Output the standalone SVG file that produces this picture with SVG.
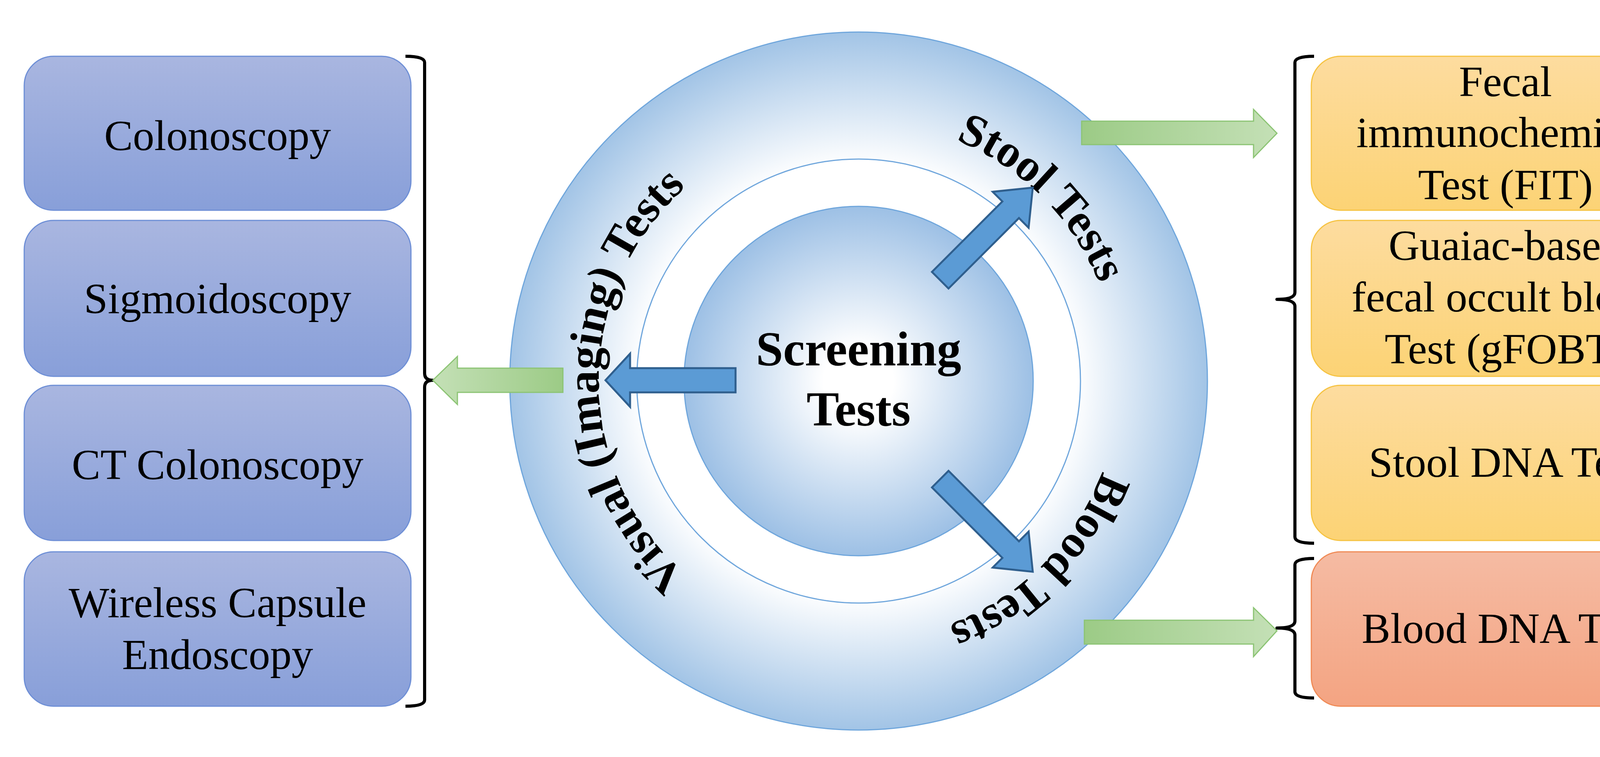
<svg xmlns="http://www.w3.org/2000/svg" width="4404" height="1937" viewBox="0 0 4404 1937">
<style>
.bx text,.t{font-family:"Liberation Serif","Times New Roman",serif;font-size:110px;fill:#000;text-anchor:middle}
.bl{font-family:"Liberation Serif","Times New Roman",serif;font-weight:bold;fill:#000}
.br{fill:none;stroke:#000;stroke-width:8;stroke-linejoin:round}
.blue{fill:#5B9BD5;stroke:#2F5F8E;stroke-width:5}
.green{fill:url(#gg);stroke:#8CC474;stroke-width:3}
</style>
<defs>
<linearGradient id="gp" x1="0" y1="0" x2="0" y2="1"><stop offset="0" stop-color="#A9B6E0"/><stop offset="1" stop-color="#889FD9"/></linearGradient>
<linearGradient id="gy" x1="0" y1="0" x2="0" y2="1"><stop offset="0" stop-color="#FDDC9F"/><stop offset="1" stop-color="#FCD375"/></linearGradient>
<linearGradient id="gr" x1="0" y1="0" x2="0" y2="1"><stop offset="0" stop-color="#F5BBA3"/><stop offset="1" stop-color="#F4A482"/></linearGradient>
<linearGradient id="gg" x1="0" y1="0" x2="1" y2="0"><stop offset="0" stop-color="#9CCB86"/><stop offset="1" stop-color="#C4E0B6"/></linearGradient>
<linearGradient id="ggl" x1="1" y1="0" x2="0" y2="0"><stop offset="0" stop-color="#9CCB86"/><stop offset="1" stop-color="#C4E0B6"/></linearGradient>
<radialGradient id="go" cx="2198" cy="975" r="893" gradientUnits="userSpaceOnUse"><stop offset="0.62" stop-color="#FFFFFF"/><stop offset="1" stop-color="#A2C4E6"/></radialGradient>
<radialGradient id="gi" cx="2198" cy="975" r="447" gradientUnits="userSpaceOnUse"><stop offset="0.2" stop-color="#FFFFFF"/><stop offset="1" stop-color="#9DC0E5"/></radialGradient>
<path id="pl" d="M2198,1640 A665,665 0 0 1 2198,310"/>
<path id="ps" d="M2198,310 A665,665 0 0 1 2863,975"/>
<path id="pb" d="M2863,975 A665,665 0 0 1 2198,1640"/>
</defs>
<rect width="4404" height="1937" fill="#fff"/>
<g id="circles">
<circle cx="2198" cy="975" r="893" fill="url(#go)" stroke="#6FA6DC" stroke-width="3"/>
<circle cx="2198" cy="975" r="568" fill="#fff" stroke="#6FA6DC" stroke-width="3"/>
<circle cx="2198" cy="975" r="447" fill="url(#gi)" stroke="#6FA6DC" stroke-width="3"/>
<text class="bl" font-size="125" text-anchor="middle" x="2198" y="935">Screening</text>
<text class="bl" font-size="125" text-anchor="middle" x="2198" y="1089">Tests</text>
<text class="bl" font-size="118"><textPath href="#pl" startOffset="50%" text-anchor="middle">Visual (Imaging) Tests</textPath></text>
<text class="bl" font-size="118"><textPath href="#ps" startOffset="50%" text-anchor="middle">Stool Tests</textPath></text>
<text class="bl" font-size="118"><textPath href="#pb" startOffset="50%" text-anchor="middle">Blood Tests</textPath></text>
</g>
<g id="left" class="bx">
<g id="n-colon"><rect x="62" y="144" width="990" height="394" rx="75" fill="url(#gp)" stroke="#6E8FD6" stroke-width="3"/><text x="557" y="384">Colonoscopy</text></g>
<g id="n-sigmo"><rect x="62" y="564" width="990" height="399" rx="75" fill="url(#gp)" stroke="#6E8FD6" stroke-width="3"/><text x="557" y="801">Sigmoidoscopy</text></g>
<g id="n-ct"><rect x="62" y="986" width="990" height="397" rx="75" fill="url(#gp)" stroke="#6E8FD6" stroke-width="3"/><text x="557" y="1226">CT Colonoscopy</text></g>
<g id="n-wce"><rect x="62" y="1412" width="990" height="395" rx="75" fill="url(#gp)" stroke="#6E8FD6" stroke-width="3"/><text x="557" y="1579">Wireless Capsule</text><text x="557" y="1712">Endoscopy</text></g>
</g>
<g id="right" class="bx">
<g id="n-fit"><rect x="3357" y="144" width="994" height="394" rx="75" fill="url(#gy)" stroke="#F6C342" stroke-width="3"/><text x="3854" y="246">Fecal</text><text x="3854" y="376">immunochemical</text><text x="3854" y="510">Test (FIT)</text></g>
<g id="n-gfobt"><rect x="3357" y="564" width="994" height="399" rx="75" fill="url(#gy)" stroke="#F6C342" stroke-width="3"/><text x="3854" y="665">Guaiac-based</text><text x="3854" y="797">fecal occult blood</text><text x="3854" y="930">Test (gFOBT)</text></g>
<g id="n-sdna"><rect x="3357" y="986" width="994" height="397" rx="75" fill="url(#gy)" stroke="#F6C342" stroke-width="3"/><text x="3854" y="1220">Stool DNA Test</text></g>
<g id="n-bdna"><rect x="3357" y="1412" width="994" height="395" rx="75" fill="url(#gr)" stroke="#F08A55" stroke-width="3"/><text x="3854" y="1645">Blood DNA Test</text></g>
</g>
<g id="connectors">
<path class="br" d="M1038,144 Q1087,144 1087,160 V955 Q1087,973 1108,973 Q1087,973 1087,991 V1791 Q1087,1807 1038,1807"/>
<path class="br" d="M3364,144 Q3315,144 3315,160 V748 Q3315,766 3269,766 Q3315,766 3315,784 V1374 Q3315,1390 3364,1390"/>
<path class="br" d="M3364,1429 Q3315,1429 3315,1445 V1589 Q3315,1607 3269,1607 Q3315,1607 3315,1625 V1770 Q3315,1786 3364,1786"/>
<polygon fill="url(#ggl)" stroke="#8CC474" stroke-width="3" points="1441,942 1171,942 1171,912 1108,973 1171,1035 1171,1004 1441,1004"/>
<polygon class="green" points="2769,310 3209,310 3209,280 3269,341 3209,403 3209,370 2769,370"/>
<polygon class="green" points="2776,1587 3209,1587 3209,1555 3269,1614 3209,1680 3209,1648 2776,1648"/>
<polygon class="blue" points="1883,942 1613,942 1613,905 1550,973 1613,1041 1613,1004 1883,1004"/>
<polygon class="blue" transform="translate(2407,717) rotate(-45)" points="0,-30 255,-30 255,-65 335,0 255,65 255,30 0,30"/>
<polygon class="blue" transform="translate(2407,1226) rotate(45)" points="0,-30 255,-30 255,-65 335,0 255,65 255,30 0,30"/>
</g>
</svg>
